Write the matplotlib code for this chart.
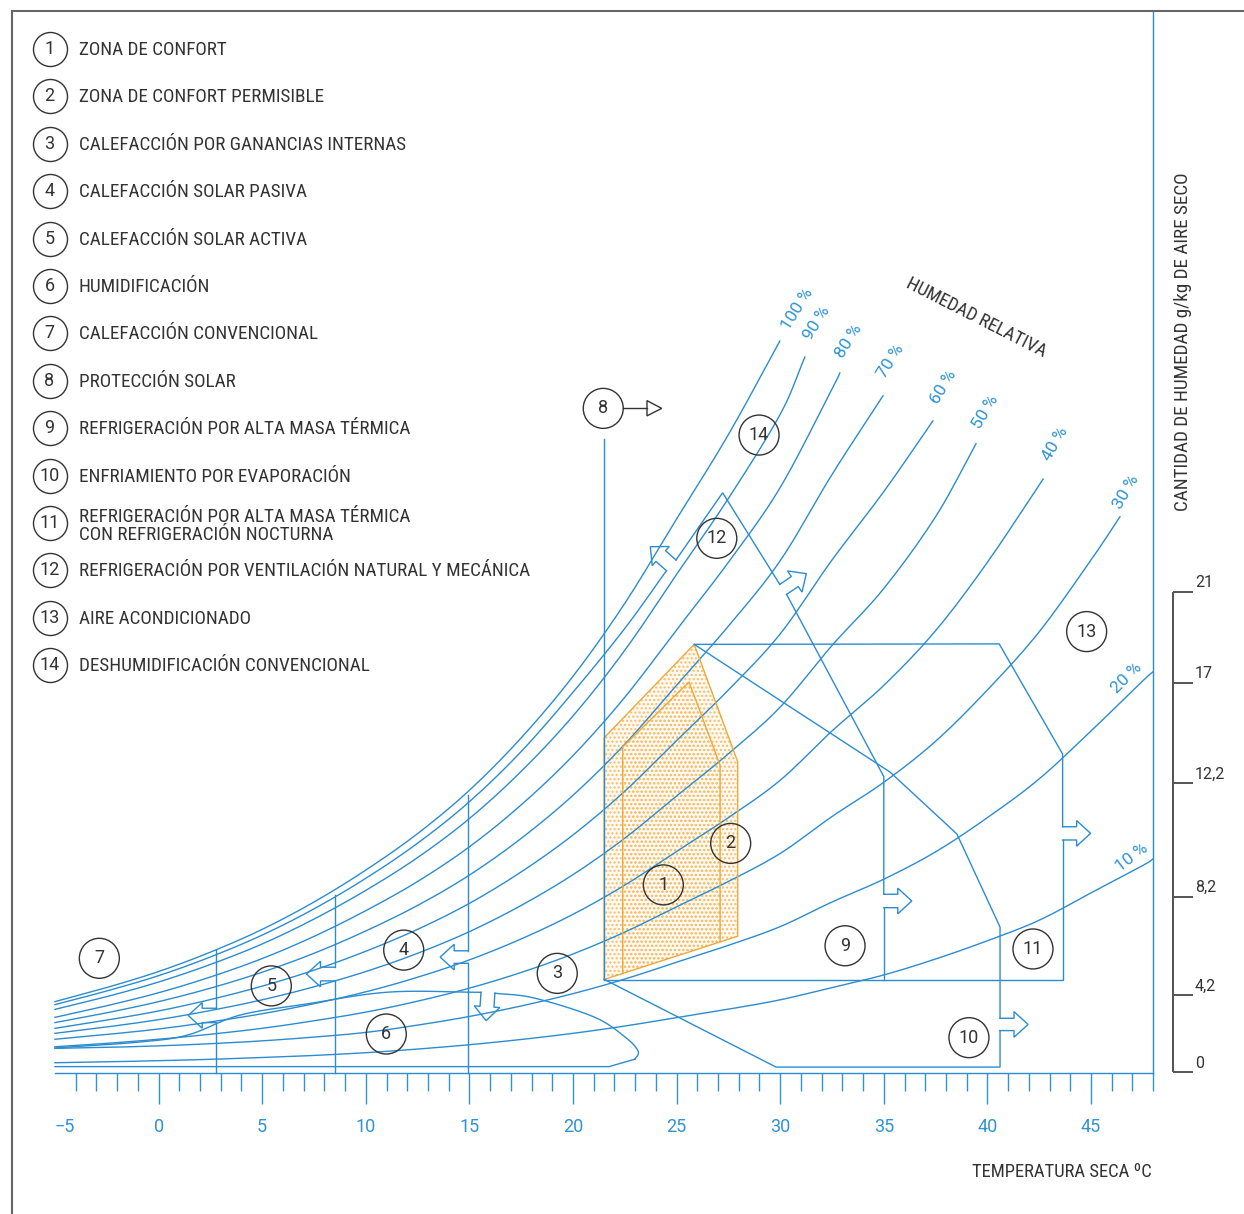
import numpy as np
import matplotlib.pyplot as plt
from matplotlib import font_manager

BLUE = '#2b8ccf'
TICK_BLUE = '#2f93d4'
INK = '#333333'
ORANGE = '#eda93c'
DOTS = '#f5be6a'

# narrow sans for the captions, first one installed wins
_installed = {f.name for f in font_manager.fontManager.ttflist}
_narrow = [n for n in ['Roboto Condensed', 'Fira Sans Condensed', 'PT Sans Narrow', 'Archivo Narrow',
                       'IBM Plex Sans Condensed', 'Encode Sans Condensed', 'Asap Condensed']
           if n in _installed]
if _narrow:
    TEXT_FONT = dict(family=[_narrow[0], 'DejaVu Sans'])
else:
    TEXT_FONT = dict(family=['Open Sans', 'DejaVu Sans'], fontstretch='condensed')
NUM_FONT = dict(family=['Roboto', 'DejaVu Sans'])

# dry bulb temperatures (°C) at which the humidity curves were read
T_STEPS = [-5, -2.5, 0, 2.5, 5, 7.5, 10, 12.5, 15, 17.5, 20, 22.5, 25, 27.5, 30,
           32.5, 35, 37.5, 40, 42.5, 45, 47.5]

# moisture content (g/kg) along each relative humidity curve, last value at the curve end
RH100_END = 29.98
RH100_W = [3.13, 3.75, 4.45, 5.3, 6.3, 7.5, 8.9, 10.5, 12.4, 14.7, 17.4, 20.6, 24.3, 28.0, 32.1]
RH90_END = 31.19
RH90_W = [2.79, 3.35, 3.99, 4.76, 5.66, 6.75, 8.01, 9.45, 11.16, 13.23, 15.66, 18.54, 21.87, 25.2,
          28.89, 31.4]
RH80_END = 32.88
RH80_W = [2.44, 2.95, 3.52, 4.21, 5.02, 5.99, 7.12, 8.4, 9.92, 11.76, 13.92, 16.48, 19.44, 22.4,
          25.68, 30.0, 30.7]
RH70_END = 34.96
RH70_W = [2.21, 2.64, 3.13, 3.72, 4.42, 5.25, 6.23, 7.35, 8.68, 10.29, 12.18, 14.42, 17.01, 19.6,
          22.47, 26.25, 29.7]
RH60_END = 37.37
RH60_W = [1.96, 2.32, 2.72, 3.22, 3.81, 4.51, 5.34, 6.3, 7.44, 8.82, 10.44, 12.36, 14.58, 16.8,
          19.26, 22.5, 25.5, 28.6]
RH50_END = 39.45
RH50_W = [1.74, 2.02, 2.34, 2.74, 3.21, 3.78, 4.45, 5.25, 6.2, 7.35, 8.7, 10.3, 12.15, 14.0,
          16.05, 18.75, 21.25, 24.4, 27.6]
RH40_END = 42.69
RH40_W = [1.48, 1.69, 1.93, 2.24, 2.6, 3.04, 3.56, 4.2, 4.96, 5.88, 6.96, 8.24, 9.72, 11.2,
          12.84, 15.0, 17.0, 19.4, 22.4, 26.05]
RH30_END = 46.4
RH30_W = [1.15, 1.30, 1.48, 1.70, 1.96, 2.29, 2.67, 3.15, 3.72, 4.41, 5.22, 6.18, 7.29, 8.4,
          9.63, 11.25, 12.75, 14.55, 16.8, 19.35, 22.5, 24.4]
RH20_END = 48
RH20_W = [1.08, 1.125, 1.19, 1.285, 1.41, 1.575, 1.78, 2.1, 2.48, 2.94, 3.48, 4.12, 4.86, 5.6,
          6.42, 7.5, 8.5, 9.7, 11.2, 12.9, 15.0, 17.2, 17.6]
RH10_END = 48
RH10_W = [0.45, 0.49, 0.54, 0.6, 0.68, 0.77, 0.89, 1.05, 1.24, 1.47, 1.74, 2.06, 2.43, 2.8,
          3.21, 3.75, 4.3, 5.0, 5.8, 6.7, 7.9, 9.1, 9.4]

RH_NAMES = ['100 %', '90 %', '80 %', '70 %', '60 %', '50 %', '40 %', '30 %', '20 %', '10 %']
RH_LABEL_T = [30.83, 31.79, 33.29, 35.35, 37.87, 39.93, 43.26, 46.68, 46.72, 46.97]
RH_LABEL_W = [33.5, 32.88, 32.08, 31.2, 30.1, 28.98, 27.57, 25.5, 17.31, 9.44]
RH_LABEL_ROT = [58, 58, 58, 58, 59, 59, 60, 60, 45, 37]

# comfort zones (2 = permissible, 1 = comfort)
CZ2_T = [21.5, 21.5, 25.85, 27.95, 27.95]
CZ2_W = [4.1, 14.7, 18.8, 13.65, 6.0]
CZ1_T = [22.4, 22.4, 25.6, 27.1, 27.1]
CZ1_W = [4.37, 14.3, 17.15, 13.5, 5.75]

# natural ventilation zone (12)
Z12_LEFT_T = [-5, -2.5, 0, 2.5, 5, 7.5, 10, 12.5, 15, 17.5, 20, 22.5, 24.51]
Z12_LEFT_W = [3.0, 3.6, 4.27, 5.09, 6.05, 7.2, 8.54, 10.08, 11.9, 14.1, 16.7, 19.5, 22.03]
Z12_TOP_T = [24.97, 27.22, 29.98]
Z12_TOP_W = [22.5, 25.45, 21.43]
Z12_MID_T = [30.31, 35.0, 35.0]
Z12_MID_W = [20.99, 13.0, 7.84]
Z12_LOW_T = [35.0, 35.0]
Z12_LOW_W = [7.25, 4.08]

# thermal mass (9) and evaporative cooling (10)
Z9_T = [25.85, 35.3, 38.53, 40.61, 40.61]
Z9_W = [18.8, 13.2, 10.48, 6.4, 2.40]
Z10_T = [40.61, 40.61, 29.8, 21.5]
Z10_W = [1.86, 0.26, 0.26, 4.11]

# thermal mass with night ventilation (11)
Z11_T = [25.85, 40.57, 43.63, 43.63]
Z11_W = [18.8, 18.82, 13.99, 10.80]
Z11_LOW_T = [43.63, 43.63, 21.5]
Z11_LOW_W = [10.22, 4.08, 4.08]

# solar protection limit (8)
Z8_T = [21.5, 21.5]
Z8_W = [27.8, 4.11]

# heating limits: vertical lines broken by a left arrow
HEAT_T = [2.78, 8.49, 14.94]
HEAT_TOP = [5.39, 7.81, 12.19]
HEAT_GAP_HI = [2.84, 4.64, 5.36]
HEAT_GAP_LO = [2.21, 4.04, 4.81]

# humidification zone (6)
Z6_TOP_T = [-5, -0.9, 1.42, 3.93, 7.16, 11.13, 15.56]
Z6_TOP_W = [1.10, 1.36, 1.67, 2.54, 3.03, 3.55, 3.54]
Z6_RIGHT_T = [16.23, 18.12, 21.01, 22.51, 23.14, 23.0, 21.74, -5]
Z6_RIGHT_W = [3.50, 3.29, 2.46, 1.58, 0.96, 0.61, 0.28, 0.28]

# numbered zone markers
ZONE_NUM = ['1', '2', '3', '4', '5', '6', '7', '8', '9', '10', '11', '12', '13', '14']
ZONE_T = [24.36, 27.61, 19.24, 11.83, 5.44, 10.99, -2.86, 21.46, 33.13, 39.11, 42.20, 26.94, 44.79, 28.98]
ZONE_W = [8.25, 10.07, 4.37, 5.39, 3.82, 1.71, 5.03, 29.15, 5.58, 1.55, 5.44, 23.45, 19.36, 27.98]

LEGEND = [
    'ZONA DE CONFORT',
    'ZONA DE CONFORT PERMISIBLE',
    'CALEFACCIÓN POR GANANCIAS INTERNAS',
    'CALEFACCIÓN SOLAR PASIVA',
    'CALEFACCIÓN SOLAR ACTIVA',
    'HUMIDIFICACIÓN',
    'CALEFACCIÓN CONVENCIONAL',
    'PROTECCIÓN SOLAR',
    'REFRIGERACIÓN POR ALTA MASA TÉRMICA',
    'ENFRIAMIENTO POR EVAPORACIÓN',
    'REFRIGERACIÓN POR ALTA MASA TÉRMICA\nCON REFRIGERACIÓN NOCTURNA',
    'REFRIGERACIÓN POR VENTILACIÓN NATURAL Y MECÁNICA',
    'AIRE ACONDICIONADO',
    'DESHUMIDIFICACIÓN CONVENCIONAL',
]

X_TICKS = [-5, 0, 5, 10, 15, 20, 25, 30, 35, 40, 45]
RULER = [0, 4.2, 8.2, 12.2, 17, 21]
RULER_TXT = ['0', '4,2', '8,2', '12,2', '17', '21']
RULER_POS = [0, 0.1603, 0.3650, 0.6017, 0.8105, 1.0]   # the printed ruler is not linear

W_PX, H_PX = 1244, 1214
fig = plt.figure(figsize=(W_PX / 100, H_PX / 100), dpi=100)

# chart axes in °C / g/kg
ax = fig.add_axes([0, 0, 1, 1])
XL = (-7.654, 52.384)
YL = (-6.184, 47.061)
ax.set_xlim(*XL)
ax.set_ylim(*YL)
ax.axis('off')
sx = W_PX / (XL[1] - XL[0])   # px per °C
sy = H_PX / (YL[1] - YL[0])   # px per g/kg


def line(t, w, color=BLUE, lw=1.0, **kw):
    ax.plot(t, w, color=color, lw=lw, solid_joinstyle='miter', **kw)


def smooth(t, w, n=10):
    # Catmull-Rom pass through the read points
    p = np.column_stack([t, w]).astype(float)
    p = np.vstack([2 * p[0] - p[1], p, 2 * p[-1] - p[-2]])
    out = []
    s = np.linspace(0, 1, n, endpoint=False)[:, None]
    for i in range(1, len(p) - 2):
        p0, p1, p2, p3 = p[i - 1], p[i], p[i + 1], p[i + 2]
        out.append(0.5 * (2 * p1 + (-p0 + p2) * s + (2 * p0 - 5 * p1 + 4 * p2 - p3) * s ** 2
                          + (-p0 + 3 * p1 - 3 * p2 + p3) * s ** 3))
    out.append(p[-2][None, :])
    out = np.vstack(out)
    return out[:, 0], out[:, 1]


def block_arrow(p, q, side, shaft=14, head=14, half=12.8):
    # open block arrow bridging the gap p-q of a line, pointing to one side
    P = np.array([p[0] * sx, p[1] * sy])
    Q = np.array([q[0] * sx, q[1] * sy])
    M = (P + Q) / 2
    d = (Q - P) / np.linalg.norm(Q - P)
    n = side * np.array([-d[1], d[0]])
    pts = np.array([P, P + n * shaft, M - d * half + n * shaft, M + n * (shaft + head),
                    M + d * half + n * shaft, Q + n * shaft, Q])
    line(pts[:, 0] / sx, pts[:, 1] / sy)


# humidity curves
curves = [(RH100_END, RH100_W), (RH90_END, RH90_W), (RH80_END, RH80_W), (RH70_END, RH70_W),
          (RH60_END, RH60_W), (RH50_END, RH50_W), (RH40_END, RH40_W), (RH30_END, RH30_W),
          (RH20_END, RH20_W), (RH10_END, RH10_W)]
for end, w in curves:
    t = T_STEPS[:len(w) - 1] + [end]
    line(*smooth(t, w))
for name, t, w, r in zip(RH_NAMES, RH_LABEL_T, RH_LABEL_W, RH_LABEL_ROT):
    ax.text(t, w, name, color=TICK_BLUE, fontsize=12.5, rotation=r,
            ha='center', va='center', rotation_mode='anchor', **NUM_FONT)
ax.text(39.48, 33.11, 'HUMEDAD RELATIVA', color=INK, fontsize=13.4, rotation=-27,
        ha='center', va='center', rotation_mode='anchor', **TEXT_FONT)

# comfort zones
ax.fill(CZ2_T, CZ2_W, facecolor='#fff8ee', edgecolor=DOTS, hatch='....', lw=0)
ax.fill(CZ1_T, CZ1_W, facecolor='none', edgecolor=DOTS, hatch='....', lw=0)
line(CZ2_T + CZ2_T[:1], CZ2_W + CZ2_W[:1], color=ORANGE)
line(CZ1_T, CZ1_W, color=ORANGE)

# strategy zone boundaries
line(Z8_T, Z8_W)
line(*smooth(Z12_LEFT_T, Z12_LEFT_W))
block_arrow((Z12_TOP_T[0], Z12_TOP_W[0]), (Z12_LEFT_T[-1], Z12_LEFT_W[-1]), -1)
line(Z12_TOP_T, Z12_TOP_W)
block_arrow((Z12_TOP_T[-1], Z12_TOP_W[-1]), (Z12_MID_T[0], Z12_MID_W[0]), 1)
line(Z12_MID_T, Z12_MID_W)
block_arrow((Z12_MID_T[-1], Z12_MID_W[-1]), (Z12_LOW_T[0], Z12_LOW_W[0]), 1)
line(Z12_LOW_T, Z12_LOW_W)

line(Z9_T, Z9_W)
block_arrow((Z9_T[-1], Z9_W[-1]), (Z10_T[0], Z10_W[0]), 1)
line(Z10_T, Z10_W)

line(Z11_T, Z11_W)
block_arrow((Z11_T[-1], Z11_W[-1]), (Z11_LOW_T[0], Z11_LOW_W[0]), 1)
line(Z11_LOW_T, Z11_LOW_W)

for t, top, hi, lo in zip(HEAT_T, HEAT_TOP, HEAT_GAP_HI, HEAT_GAP_LO):
    line([t, t], [top, hi])
    block_arrow((t, hi), (t, lo), -1)
    line([t, t], [lo, 0])

line(*smooth(Z6_TOP_T, Z6_TOP_W))
block_arrow((Z6_TOP_T[-1], Z6_TOP_W[-1]), (Z6_RIGHT_T[0], Z6_RIGHT_W[0]), -1)
line(*smooth(Z6_RIGHT_T[:6], Z6_RIGHT_W[:6]))
line(Z6_RIGHT_T[5:], Z6_RIGHT_W[5:])

# solar protection marker arrow
ax.plot([22.41, 23.57], [29.15, 29.15], color=INK, lw=1.0)
ax.fill([23.57, 24.28, 23.57], [29.49, 29.15, 28.82], facecolor='white', edgecolor=INK, lw=1.0)

# numbered circles
ax.scatter(ZONE_T, ZONE_W, s=829, facecolors='none', edgecolors=INK, linewidths=1.0, zorder=3)
for n, t, w in zip(ZONE_NUM, ZONE_T, ZONE_W):
    ax.text(t, w, n, color=INK, fontsize=13, ha='center', va='center', zorder=4, **NUM_FONT)

# temperature axis
line([-5, 48], [0, 0])
minor = [t for t in range(-4, 49) if t % 5]
major = list(range(0, 46, 5))
ax.vlines(minor, -18 / sy, 0, color=TICK_BLUE, lw=1.0)
ax.vlines(major, -31 / sy, 0, color=TICK_BLUE, lw=1.0)
for t in X_TICKS:
    ax.text(t, -54 / sy, str(t).replace('-', '\u2212'), color=TICK_BLUE, fontsize=13,
            ha='left' if t == -5 else 'center', va='center', **NUM_FONT)
ax.text(47.95, -99 / sy, 'TEMPERATURA SECA ºC', color=INK, fontsize=13.4, ha='right', va='center',
        **TEXT_FONT)

# right edge line and moisture label
line([48, 48], [0, 46.58])
ax.text(49.44, 32.06, 'CANTIDAD DE HUMEDAD g/kg DE AIRE SECO', color=INK, fontsize=13.8,
        rotation=90, ha='center', va='center', **TEXT_FONT)

# frame
ax.plot([-7.075, XL[1]], [46.58, 46.58], color='#666666', lw=1.5, clip_on=False)
ax.plot([-7.075, -7.075], [46.58, YL[0]], color='#666666', lw=1.5, clip_on=False)

# moisture ruler (g/kg)
rax = fig.add_axes([1173 / W_PX, (H_PX - 1072) / H_PX, (W_PX - 1173) / W_PX, (1072 - 591.7) / H_PX])
rax.set_yscale('function', functions=(lambda v: np.interp(v, RULER, RULER_POS),
                                      lambda p: np.interp(p, RULER_POS, RULER)))
rax.set_ylim(0, 21)
rax.set_xlim(0, W_PX - 1173)
rax.axis('off')
rax.vlines(0, 0, 21, color=INK, lw=1.2, clip_on=False)
rax.hlines(RULER, 0, 20, color='#555555', lw=1.4, clip_on=False)
for v, s in zip(RULER, RULER_TXT):
    rax.annotate(s, (22, v), xytext=(0, 1), textcoords='offset points', color=INK,
                 fontsize=11.5, ha='left', va='bottom', family=['Roboto', 'DejaVu Sans'],
                 annotation_clip=False)

# legend
lg = fig.add_axes([0, 0, 1, 1])
lg.set_xlim(0, W_PX)
lg.set_ylim(H_PX, 0)
lg.axis('off')
rows = 49 + 47.4 * np.arange(len(LEGEND))
lg.scatter(np.full(len(LEGEND), 49.5), rows, s=600, facecolors='white', edgecolors=INK, linewidths=1.0)
for i, (y, txt) in enumerate(zip(rows, LEGEND)):
    lg.text(49.5, y, str(i + 1), color=INK, fontsize=13, ha='center', va='center', **NUM_FONT)
    lg.text(79, y + (3 if '\n' in txt else 1), txt, color=INK, fontsize=13.8, ha='left', va='center',
            linespacing=1.05, **TEXT_FONT)

fig.savefig('out.png', dpi=100)
